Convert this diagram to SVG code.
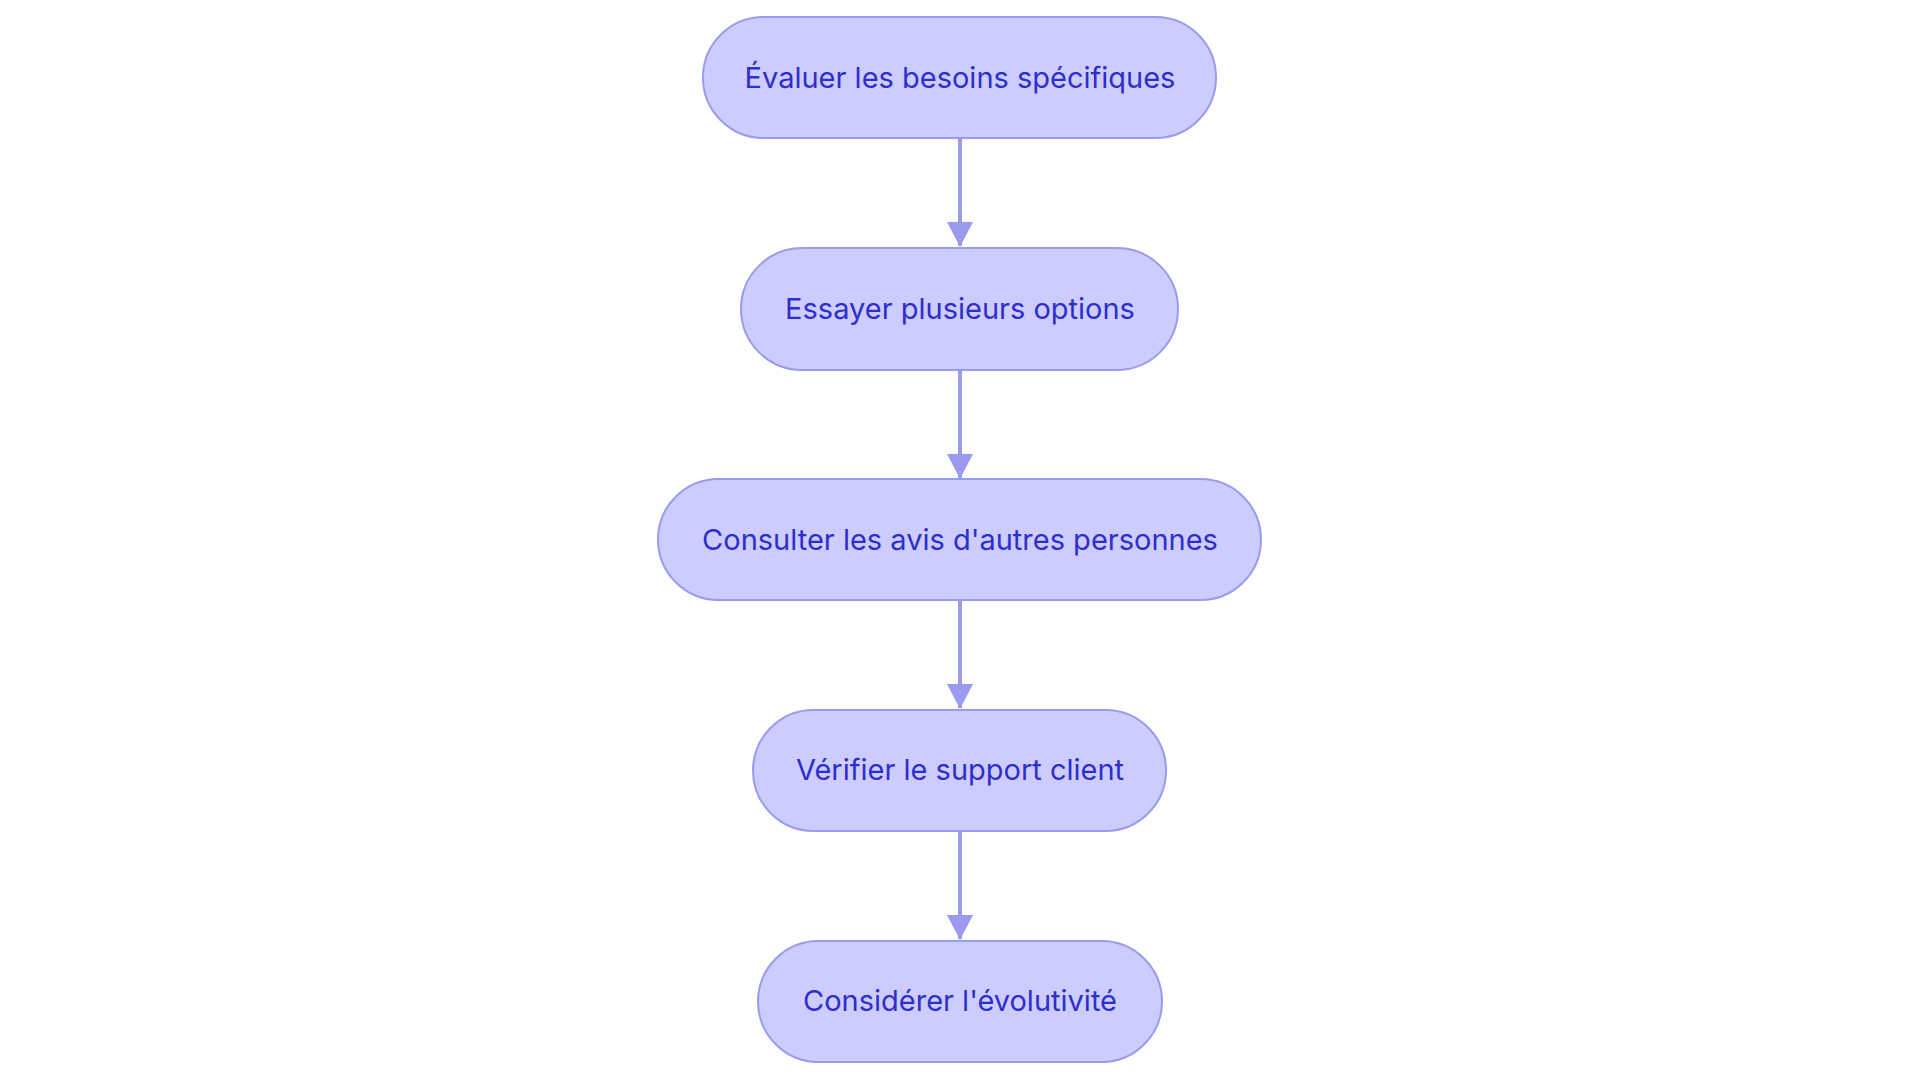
<svg xmlns="http://www.w3.org/2000/svg" width="1920" height="1083" viewBox="0 0 1920 1083">
<style>
.n{fill:#ccccff;stroke:#9a9af0;stroke-width:2}
.t{font-family:Inter,"Noto Sans",sans-serif;font-size:29px;fill:#2e2ecc;text-anchor:middle;dominant-baseline:central}
.c{stroke:#9a9aee;stroke-width:4;fill:none;marker-end:url(#a)}
</style>
<defs><marker id="a" markerUnits="userSpaceOnUse" markerWidth="26" markerHeight="28" refX="13" refY="26" orient="auto-start-reverse" viewBox="0 0 26 28"><path d="M0,0 L26,0 L13,28 Z" fill="#9a9aee" transform="rotate(-90 13 14) translate(0,0)"/></marker></defs>
<rect width="1920" height="1083" fill="#fff"/>
<g id="connectors">
<path d="M960,139 V246" stroke="#9a9aee" stroke-width="4"/>
<path d="M960,371 V478" stroke="#9a9aee" stroke-width="4"/>
<path d="M960,601 V708" stroke="#9a9aee" stroke-width="4"/>
<path d="M960,832 V939" stroke="#9a9aee" stroke-width="4"/>
<g fill="#9a9aee"><path d="M947,222 H973 L960,247 Z"/><path d="M947,454 H973 L960,479 Z"/><path d="M947,684 H973 L960,709 Z"/><path d="M947,915 H973 L960,940 Z"/></g>
</g>
<g id="n1"><rect class="n" x="703" y="17" width="513" height="121" rx="60.5"/><text class="t" x="960" y="77">Évaluer les besoins spécifiques</text></g>
<g id="n2"><rect class="n" x="741" y="248" width="437" height="122" rx="61"/><text class="t" x="960" y="308">Essayer plusieurs options</text></g>
<g id="n3"><rect class="n" x="658" y="479" width="603" height="121" rx="60.5"/><text class="t" x="960" y="539">Consulter les avis d'autres personnes</text></g>
<g id="n4"><rect class="n" x="753" y="710" width="413" height="121" rx="60.5"/><text class="t" x="960" y="769">Vérifier le support client</text></g>
<g id="n5"><rect class="n" x="758" y="941" width="404" height="121" rx="60.5"/><text class="t" x="960" y="1000">Considérer l'évolutivité</text></g>
</svg>
